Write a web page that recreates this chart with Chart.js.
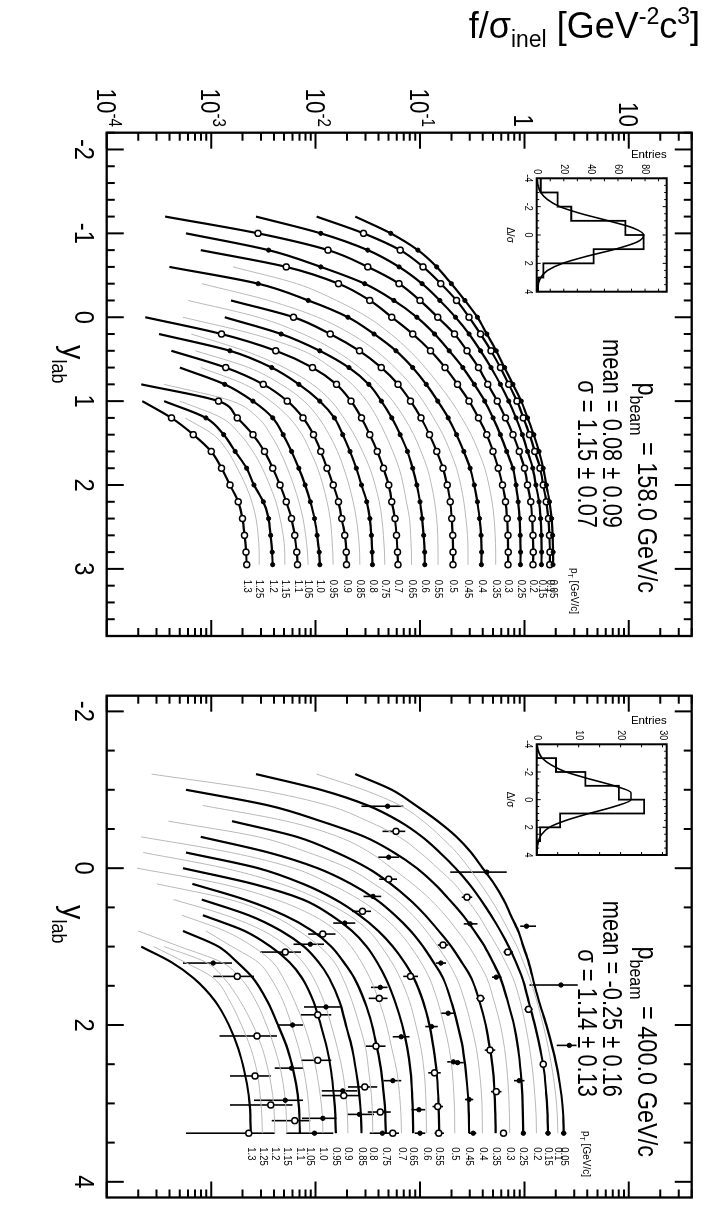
<!DOCTYPE html>
<html>
<head>
<meta charset="utf-8">
<script src="https://cdn.jsdelivr.net/npm/chart.js@4.4.1/dist/chart.umd.min.js"></script>
<style>
  html, body { margin: 0; padding: 0; background: #fff; overflow: hidden; }
  body { width: 714px; height: 1226px; position: relative; }
  /* the plot is drawn lying on its side and turned a quarter turn */
  #rot { position: absolute; left: 0; top: 0; width: 1226px; height: 714px;
         transform-origin: 0 0; transform: translate(714px, 0) rotate(90deg); }
  #rot canvas { position: absolute; left: 0; top: 0; }
</style>
</head>
<body>
<div id="rot">
  <canvas id="c158" width="1226" height="714"></canvas>
  <canvas id="c400" width="1226" height="714"></canvas>
  <canvas id="h158" width="1226" height="714"></canvas>
  <canvas id="h400" width="1226" height="714"></canvas>
</div>
<script>
const FONT = '"Liberation Sans", Arial, Helvetica, sans-serif';
const _ = null;

// pT bins [GeV/c]
const ptBins = ['0.05','0.1','0.15','0.2','0.25','0.3','0.35','0.4','0.45','0.5','0.55','0.6','0.65',
                '0.7','0.75','0.8','0.85','0.9','0.95','1.0','1.05','1.1','1.15','1.2','1.25','1.3'];

// 158 GeV/c : log10(f/sigma) of each pT curve at these y_lab
const yLab158 = [-1.2,-1.0,-0.8,-0.6,-0.4,-0.2,0,0.2,0.4,0.6,0.8,1.0,1.2,1.4,1.6,1.8,2.0,2.2,2.4,2.6,2.8,2.95];
const logF158 = [
  [-1.62,-1.28,-1.02,-0.84,-0.70,-0.57,-0.45,-0.36,-0.27,-0.19,-0.11,-0.03,0.03,0.09,0.14,0.18,0.21,0.24,0.26,0.27,0.275,0.274],
  [-1.99,-1.54,-1.19,-0.97,-0.80,-0.65,-0.53,-0.42,-0.32,-0.23,-0.15,-0.07,-0.01,0.05,0.10,0.15,0.18,0.21,0.23,0.24,0.245,0.242],
  [-2.57,-1.95,-1.50,-1.20,-0.98,-0.81,-0.66,-0.53,-0.42,-0.32,-0.23,-0.15,-0.08,-0.02,0.03,0.08,0.11,0.14,0.155,0.163,0.165,0.163],
  [-3.44,-2.55,-1.88,-1.50,-1.20,-1.00,-0.83,-0.67,-0.55,-0.44,-0.35,-0.26,-0.18,-0.11,-0.05,0.00,0.03,0.06,0.075,0.082,0.085,0.082],
  [_,-3.24,-2.45,-1.95,-1.53,-1.25,-1.03,-0.86,-0.72,-0.59,-0.48,-0.38,-0.30,-0.23,-0.17,-0.11,-0.08,-0.06,-0.045,-0.04,-0.037,-0.038],
  [_,_,-3.10,-2.28,-1.78,-1.48,-1.27,-1.07,-0.90,-0.76,-0.64,-0.53,-0.44,-0.36,-0.30,-0.25,-0.21,-0.18,-0.165,-0.158,-0.155,-0.157],
  [_,_,_,-2.79,-2.18,-1.80,-1.50,-1.28,-1.10,-0.95,-0.82,-0.70,-0.60,-0.51,-0.44,-0.38,-0.34,-0.31,-0.29,-0.28,-0.275,-0.275],
  [_,_,_,-3.40,-2.55,-2.07,-1.69,-1.44,-1.23,-1.07,-0.94,-0.83,-0.73,-0.65,-0.58,-0.52,-0.48,-0.45,-0.43,-0.415,-0.41,-0.412],
  [_,_,_,_,-3.09,-2.45,-1.98,-1.66,-1.42,-1.24,-1.09,-0.97,-0.87,-0.78,-0.71,-0.65,-0.61,-0.58,-0.56,-0.545,-0.54,-0.54],
  [_,_,_,_,_,-2.81,-2.21,-1.86,-1.58,-1.37,-1.21,-1.09,-0.99,-0.91,-0.84,-0.78,-0.74,-0.71,-0.695,-0.687,-0.683,-0.683],
  [_,_,_,_,_,-3.22,-2.55,-2.12,-1.81,-1.58,-1.40,-1.26,-1.15,-1.06,-0.99,-0.93,-0.89,-0.86,-0.84,-0.83,-0.827,-0.827],
  [_,_,_,_,_,_,-2.87,-2.33,-1.96,-1.68,-1.49,-1.37,-1.27,-1.19,-1.12,-1.07,-1.03,-1.00,-0.98,-0.965,-0.955,-0.954],
  [_,_,_,_,_,_,-3.27,-2.60,-2.12,-1.85,-1.65,-1.51,-1.41,-1.33,-1.26,-1.20,-1.16,-1.13,-1.10,-1.09,-1.082,-1.081],
  [_,_,_,_,_,_,-3.63,-2.90,-2.38,-2.03,-1.80,-1.66,-1.56,-1.48,-1.41,-1.35,-1.30,-1.27,-1.24,-1.225,-1.215,-1.21],
  [_,_,_,_,_,_,_,-3.19,-2.68,-2.30,-2.03,-1.85,-1.73,-1.63,-1.55,-1.48,-1.43,-1.39,-1.365,-1.35,-1.34,-1.337],
  [_,_,_,_,_,_,_,-3.50,-2.82,-2.42,-2.16,-1.96,-1.82,-1.74,-1.67,-1.61,-1.56,-1.51,-1.48,-1.465,-1.458,-1.455],
  [_,_,_,_,_,_,_,_,-3.15,-2.64,-2.33,-2.11,-1.97,-1.87,-1.79,-1.73,-1.68,-1.64,-1.61,-1.59,-1.578,-1.576],
  [_,_,_,_,_,_,_,_,-3.38,-2.86,-2.50,-2.27,-2.12,-2.02,-1.95,-1.89,-1.83,-1.78,-1.75,-1.72,-1.705,-1.703],
  [_,_,_,_,_,_,_,_,_,-3.10,-2.68,-2.43,-2.25,-2.13,-2.05,-1.98,-1.93,-1.89,-1.86,-1.845,-1.835,-1.832],
  [_,_,_,_,_,_,_,_,_,-3.30,-2.87,-2.60,-2.41,-2.31,-2.23,-2.16,-2.10,-2.05,-2.01,-1.985,-1.965,-1.959],
  [_,_,_,_,_,_,_,_,_,_,-3.45,-2.80,-2.55,-2.43,-2.34,-2.27,-2.21,-2.16,-2.12,-2.095,-2.078,-2.071],
  [_,_,_,_,_,_,_,_,_,_,-3.67,-2.93,-2.75,-2.60,-2.49,-2.41,-2.34,-2.28,-2.23,-2.20,-2.18,-2.172],
  [_,_,_,_,_,_,_,_,_,_,_,-3.30,-2.90,-2.72,-2.60,-2.51,-2.44,-2.38,-2.34,-2.31,-2.295,-2.294],
  [_,_,_,_,_,_,_,_,_,_,_,-3.45,-3.05,-2.88,-2.77,-2.66,-2.59,-2.50,-2.45,-2.43,-2.415,-2.411],
  [_,_,_,_,_,_,_,_,_,_,_,_,-3.25,-2.98,-2.84,-2.75,-2.67,-2.61,-2.57,-2.55,-2.54,-2.54],
  [_,_,_,_,_,_,_,_,_,_,_,-3.66,-3.38,-3.17,-3.00,-2.90,-2.82,-2.74,-2.70,-2.68,-2.665,-2.66]
];
const bold158 = [1,1,1,1,1,1,0,1,0,1,0,1,0,1,0,1,0,1,0,1,0,1,0,1,0,1];
const open158 = [0,1,0,1,0,1,0,0,0,1,0,0,0,1,0,0,0,1,0,0,0,1,0,0,0,1];

// 400 GeV/c : model curves
const yLab400 = [-1.2,-1.0,-0.8,-0.6,-0.4,-0.2,0,0.2,0.4,0.6,0.8,1.0,1.2,1.4,1.7,2.0,2.3,2.6,2.9,3.15,3.38];
const logF400 = [
  [-1.62,-1.27,-1.04,-0.83,-0.65,-0.51,-0.40,-0.29,-0.20,-0.13,-0.06,-0.01,0.04,0.08,0.14,0.21,0.27,0.32,0.355,0.372,0.376],
  [-1.99,-1.54,-1.19,-0.97,-0.80,-0.65,-0.53,-0.42,-0.32,-0.23,-0.15,-0.07,-0.01,0.05,0.12,0.18,0.23,0.27,0.30,0.315,0.32],
  [-2.57,-1.95,-1.50,-1.20,-0.98,-0.81,-0.66,-0.53,-0.42,-0.32,-0.23,-0.15,-0.08,-0.02,0.04,0.10,0.15,0.19,0.21,0.222,0.226],
  [-3.57,-2.55,-1.88,-1.50,-1.20,-1.00,-0.83,-0.67,-0.55,-0.44,-0.35,-0.26,-0.18,-0.11,-0.04,0.01,0.05,0.08,0.10,0.112,0.115],
  [_,-3.24,-2.45,-1.95,-1.53,-1.25,-1.03,-0.86,-0.72,-0.59,-0.48,-0.38,-0.30,-0.23,-0.16,-0.10,-0.06,-0.035,-0.02,-0.014,-0.013],
  [_,_,-3.08,-2.28,-1.78,-1.48,-1.27,-1.07,-0.90,-0.76,-0.64,-0.53,-0.44,-0.36,-0.29,-0.23,-0.19,-0.165,-0.15,-0.143,-0.141],
  [_,_,_,-2.80,-2.18,-1.80,-1.50,-1.28,-1.10,-0.95,-0.82,-0.70,-0.60,-0.51,-0.43,-0.37,-0.33,-0.30,-0.285,-0.278,-0.275],
  [_,_,_,-3.41,-2.55,-2.07,-1.69,-1.44,-1.23,-1.07,-0.94,-0.83,-0.73,-0.65,-0.57,-0.51,-0.46,-0.43,-0.41,-0.404,-0.402],
  [_,_,_,_,-3.10,-2.45,-1.98,-1.66,-1.42,-1.24,-1.09,-0.97,-0.87,-0.78,-0.70,-0.64,-0.59,-0.56,-0.54,-0.532,-0.53],
  [_,_,_,_,-3.67,-2.81,-2.21,-1.86,-1.58,-1.37,-1.21,-1.09,-0.99,-0.91,-0.83,-0.77,-0.72,-0.69,-0.675,-0.668,-0.667],
  [_,_,_,_,_,-3.24,-2.55,-2.12,-1.81,-1.58,-1.40,-1.26,-1.15,-1.06,-0.97,-0.91,-0.87,-0.84,-0.825,-0.819,-0.817],
  [_,_,_,_,_,-3.65,-2.87,-2.33,-1.96,-1.68,-1.49,-1.37,-1.27,-1.19,-1.10,-1.04,-0.99,-0.96,-0.945,-0.94,-0.938],
  [_,_,_,_,_,_,-3.27,-2.60,-2.12,-1.85,-1.65,-1.51,-1.41,-1.33,-1.24,-1.17,-1.12,-1.09,-1.075,-1.068,-1.066],
  [_,_,_,_,_,_,-3.71,-2.90,-2.38,-2.03,-1.80,-1.66,-1.56,-1.48,-1.39,-1.32,-1.27,-1.22,-1.195,-1.182,-1.177],
  [_,_,_,_,_,_,_,-3.18,-2.68,-2.30,-2.03,-1.85,-1.73,-1.63,-1.53,-1.46,-1.41,-1.37,-1.345,-1.332,-1.327],
  [_,_,_,_,_,_,_,-3.52,-2.82,-2.42,-2.16,-1.96,-1.82,-1.74,-1.65,-1.58,-1.52,-1.49,-1.465,-1.455,-1.452],
  [_,_,_,_,_,_,_,_,-3.09,-2.64,-2.33,-2.11,-1.97,-1.87,-1.77,-1.71,-1.65,-1.61,-1.58,-1.565,-1.56],
  [_,_,_,_,_,_,_,_,-3.36,-2.86,-2.50,-2.27,-2.12,-2.02,-1.92,-1.85,-1.79,-1.74,-1.71,-1.695,-1.69],
  [_,_,_,_,_,_,_,_,_,-3.08,-2.68,-2.43,-2.25,-2.13,-2.02,-1.95,-1.89,-1.85,-1.825,-1.81,-1.806],
  [_,_,_,_,_,_,_,_,_,-3.28,-2.87,-2.60,-2.41,-2.31,-2.20,-2.11,-2.04,-1.99,-1.955,-1.935,-1.93],
  [_,_,_,_,_,_,_,_,_,_,-3.05,-2.80,-2.55,-2.43,-2.31,-2.23,-2.16,-2.11,-2.075,-2.06,-2.055],
  [_,_,_,_,_,_,_,_,_,_,-3.27,-2.93,-2.75,-2.60,-2.46,-2.36,-2.27,-2.21,-2.17,-2.155,-2.15],
  [_,_,_,_,_,_,_,_,_,_,-3.70,-3.30,-2.90,-2.72,-2.57,-2.47,-2.39,-2.33,-2.295,-2.28,-2.275],
  [_,_,_,_,_,_,_,_,_,_,_,-3.45,-3.05,-2.88,-2.72,-2.60,-2.51,-2.45,-2.41,-2.395,-2.39],
  [_,_,_,_,_,_,_,_,_,_,_,-3.55,-3.25,-2.98,-2.82,-2.71,-2.62,-2.56,-2.53,-2.515,-2.51],
  [_,_,_,_,_,_,_,_,_,_,_,-3.67,-3.38,-3.17,-2.96,-2.83,-2.74,-2.68,-2.64,-2.625,-2.62]
];
const bold400 = [1,0,1,0,1,0,1,0,1,0,1,0,1,0,1,0,1,0,1,0,0,1,0,0,0,1];

// 400 GeV/c : measured points, log10 value and error range
const pt400Y = [-0.79,-0.47,-0.14,0.14,0.36,0.55,0.70,0.84,0.97,1.07,1.21,1.38,1.52,1.66,1.77,1.87,2.00,2.14,2.27,2.45,
  2.55,2.65,2.71,2.79,2.84,2.90,2.96,3.02,3.11,3.14,3.19,3.22,3.38,3.38,3.38,3.38,3.08,2.61,3.04,2.47,
  3.38,3.38,0.74,0.71,0.98,1.07,1.21,1.38,1.39,1.49,1.66,1.80,1.85,2.02,2.15,2.32,2.48,2.26,2.50,2.71,
  2.85,2.95,3.38,3.38,3.38,3.38,3.38,0.05,0.37];
const pt400LogF = [-1.31,-1.23,-1.30,-1.30,-1.45,-1.55,-1.72,-1.93,-2.05,-2.29,-2.98,-2.75,-1.38,-1.39,-1.90,-1.98,-2.22,-2.56,-1.42,-1.98,
  -2.23,-2.58,-1.26,-1.53,-1.74,-1.73,-2.29,-2.43,-1.38,-1.58,-1.93,-2.20,-2.64,-2.01,-1.36,-1.26,-1.01,-0.86,-0.83,-0.68,
  -1.00,-0.82,0.02,-0.52,-0.78,-0.16,-0.80,-1.09,-0.27,0.35,-0.42,0.04,-0.73,-0.89,-1.18,-0.33,-0.64,0.43,0.18,-0.05,
  -0.27,-0.53,0.376,0.226,-0.01,-0.20,-0.49,-0.36,-0.55];
const pt400Lo = [-1.56,-1.36,-1.40,-1.39,-1.54,-1.65,-1.83,-2.07,-2.21,-2.53,-3.27,-2.98,-1.47,-1.49,-2.11,-2.14,-2.36,-2.92,-1.52,-2.14,
  -2.39,-2.82,-1.35,-1.69,-1.94,-1.94,-2.59,-2.82,-1.50,-1.70,-2.13,-2.42,-3.24,-2.28,-1.48,-1.33,-1.08,-0.92,-0.88,-0.74,
  -1.05,-0.86,-0.04,-0.58,-0.83,-0.20,-0.85,-1.16,-0.31,0.05,-0.46,0.00,-0.80,-0.95,-1.26,-0.38,-0.70,0.31,0.16,-0.10,
  -0.32,-0.57,0.35,0.20,-0.03,-0.23,-0.53,-0.71,-0.60];
const pt400Hi = [-1.16,-1.14,-1.20,-1.22,-1.37,-1.47,-1.62,-1.81,-1.92,-2.14,-2.80,-2.59,-1.31,-1.31,-1.76,-1.85,-2.12,-2.37,-1.33,-1.85,
  -2.12,-2.43,-1.18,-1.41,-1.60,-1.58,-2.12,-2.22,-1.28,-1.44,-1.80,-2.05,-2.39,-1.83,-1.28,-1.20,-0.95,-0.80,-0.78,-0.62,
  -0.95,-0.77,0.11,-0.45,-0.73,-0.11,-0.75,-1.02,-0.22,0.51,-0.38,0.08,-0.66,-0.83,-1.10,-0.28,-0.58,0.50,0.20,0.00,
  -0.22,-0.49,0.40,0.25,0.01,-0.17,-0.46,-0.17,-0.50];
const pt400Open = [0,1,0,1,0,1,0,1,0,1,0,1,0,1,0,1,0,1,1,1,
  0,1,0,1,0,1,0,1,1,0,0,1,1,0,0,1,0,1,1,0,
  0,1,0,0,1,1,0,1,0,0,1,1,0,0,0,1,0,0,1,0,
  1,0,0,0,0,1,0,0,1];

// residual histograms (inserts)
const histEdges = [-4,-3,-2,-1,0,1,2,3,4];
const hist158 = [3,15.5,25.5,65.5,79,42,5,1];
const hist400 = [0,4.6,11.6,19.6,25.6,5.6,0.8,0];
const fitX = [-4,-3.5,-3,-2.5,-2,-1.5,-1,-0.5,0,0.5,1,1.5,2,2.5,3,3.5,4];
const fit158 = [0.3,1,3,8,17,33,53,71,79,74,58,37,19,8,3,1,0.3];
const fit400 = [0.1,0.4,1.3,3.5,7,12.5,18.5,22.5,22.5,18.5,12.5,7,3,1.2,0.4,0.1,0];

// tick labels
const yLabTicks158 = [-2,-1,0,1,2,3];
const yLabTicks400 = [-2,0,2,4];
const fTicks = [1e-4,1e-3,1e-2,1e-1,1,10];
const fTickText = [['10','-4'],['10','-3'],['10','-2'],['10','-1'],['1',''],['10','']];
const entTicks158 = [0,20,40,60,80];
const entTicks400 = [0,10,20,30];
const dsTicks = [-4,-2,0,2,4];

// ---------- helpers ----------
// parts: [text, size, dy]; sx squeezes the text along its run (the original uses a narrow face)
function rich(ctx, x, y, parts, align, sx) {
  sx = sx || 1;
  let w = 0;
  for (const p of parts) { ctx.font = p[1] + 'px ' + FONT; w += ctx.measureText(p[0]).width; }
  w *= sx;
  let cx = align === 'right' ? x - w : (align === 'center' ? x - w / 2 : x);
  ctx.save();
  ctx.translate(cx, y);
  ctx.scale(sx, 1);
  let lx = 0;
  for (const p of parts) {
    ctx.font = p[1] + 'px ' + FONT;
    ctx.fillText(p[0], lx, p[2] || 0);
    lx += ctx.measureText(p[0]).width;
  }
  ctx.restore();
}
function linTicks(min, max, major, minor, lMaj, lMin) {
  const t = [];
  for (let n = Math.ceil(min / minor - 1e-6); n <= Math.floor(max / minor + 1e-6); n++) {
    const v = n * minor;
    const isMaj = Math.abs(v / major - Math.round(v / major)) < 1e-6;
    t.push([v, isMaj ? lMaj : lMin]);
  }
  return t;
}
function logTicks(min, max, lMaj, lMin) {
  const t = [];
  for (let d = -4; d <= 1; d++) for (let m = 1; m <= 9; m++) {
    const v = m * Math.pow(10, d);
    if (v >= min * 0.999 && v <= max * 1.001) t.push([v, m === 1 ? lMaj : lMin]);
  }
  return t;
}
function frameTicks(xT, yT, frameW, tickW) {
  return {
    id: 'frameTicks',
    afterDatasetsDraw(chart) {
      const { ctx, chartArea: a, scales: { x, y } } = chart;
      ctx.save();
      ctx.strokeStyle = '#000';
      ctx.lineWidth = tickW;
      ctx.beginPath();
      xT.forEach(([v, len]) => {
        const p = x.getPixelForValue(v);
        ctx.moveTo(p, a.bottom); ctx.lineTo(p, a.bottom - len);
        ctx.moveTo(p, a.top); ctx.lineTo(p, a.top + len);
      });
      yT.forEach(([v, len]) => {
        const p = y.getPixelForValue(v);
        ctx.moveTo(a.left, p); ctx.lineTo(a.left + len, p);
        ctx.moveTo(a.right, p); ctx.lineTo(a.right - len, p);
      });
      ctx.stroke();
      ctx.lineWidth = frameW;
      ctx.strokeRect(a.left, a.top, a.right - a.left, a.bottom - a.top);
      ctx.restore();
    }
  };
}
function curveSets(knots, rows, bold, open, markers) {
  return rows.map((row, i) => {
    const pts = [];
    row.forEach((v, k) => { if (v !== null) pts.push({ x: knots[k], y: Math.pow(10, v) }); });
    const b = bold[i] === 1;
    const o = open && open[i] === 1;
    const r = markers && b ? (o ? 3 : 2.1) : 0;
    return {
      data: pts,
      borderColor: b ? '#000' : '#b9b9b9',
      borderWidth: b ? 2.2 : 1,
      cubicInterpolationMode: 'monotone',
      pointRadius: c => (c.dataIndex === 0 ? 0 : r),
      pointBorderWidth: o ? 1.5 : 1,
      pointBackgroundColor: o ? '#fff' : '#000',
      pointBorderColor: '#000',
      order: b ? 1 : 2
    };
  });
}
function baseOptions(xmin, xmax, ymin, ymax, ylog, pad) {
  return {
    responsive: false, animation: false, events: [],
    layout: { padding: pad },
    plugins: { legend: { display: false }, tooltip: { enabled: false } },
    scales: {
      x: { type: 'linear', min: xmin, max: xmax, display: false },
      y: { type: ylog ? 'logarithmic' : 'linear', min: ymin, max: ymax, display: false }
    }
  };
}
function ptLabels(chart, knots, rows, dx, textX0, titleY) {
  const { ctx, scales: { x, y } } = chart;
  ctx.textBaseline = 'middle';
  rows.forEach((row, i) => {
    const last = row[row.length - 1];
    const px = x.getPixelForValue(knots[knots.length - 1]) + dx;
    rich(ctx, px, y.getPixelForValue(Math.pow(10, last)), [[ptBins[i], 10]], 'left', 0.95);
  });
  ctx.textBaseline = 'alphabetic';
  rich(ctx, textX0, titleY, [['p', 10], ['T', 7, 3], [' [GeV/c]', 10]], 'left');
}
function yLabAxis(chart, ticks, titleX) {
  const { ctx, scales: { x } } = chart;
  ticks.forEach(v => rich(ctx, x.getPixelForValue(v), 639, [[String(v), 28]], 'center', 0.85));
  rich(ctx, titleX, 651, [['y', 32], ['lab', 20, 11]], 'left', 0.9);
}

// ---------- 158 GeV/c panel ----------
const texts158 = {
  id: 'texts158',
  afterDraw(chart) {
    const { ctx, scales: { y } } = chart;
    ctx.save();
    ctx.fillStyle = '#000';
    fTicks.forEach((v, i) => {
      const p = y.getPixelForValue(v);
      rich(ctx, 127, p + 10, [[fTickText[i][0], 28], [fTickText[i][1], 19, -12]], 'right', 0.8);
    });
    ctx.save();
    ctx.translate(38, 14);
    ctx.rotate(-Math.PI / 2);
    rich(ctx, 0, 0, [['f/σ', 36], ['inel', 23, 9], [' [GeV', 36], ['-2', 23, -14], ['c', 36], ['3', 23, -14], [']', 36]], 'right');
    ctx.restore();
    yLabAxis(chart, yLabTicks158, 345);
    rich(ctx, 593, 76, [['p', 28], ['beam', 19, 8], [' = 158.0 GeV/c', 28]], 'right', 0.84);
    rich(ctx, 528, 111, [['mean = 0.08 ± 0.09', 27]], 'right', 0.81);
    rich(ctx, 528, 136, [['σ = 1.15 ± 0.07', 27]], 'right', 0.81);
    ptLabels(chart, yLab158, logF158, 15, 568, 143);
    ctx.restore();
  }
};
new Chart(document.getElementById('c158'), {
  type: 'line',
  data: { datasets: curveSets(yLab158, logF158, bold158, open158, true) },
  options: baseOptions(-2.2, 3.8, 1e-4, 40, true, { left: 132.7, right: 590, top: 22.3, bottom: 106.7 }),
  plugins: [frameTicks(linTicks(-2.2, 3.8, 1, 0.2, 17, 8), logTicks(1e-4, 40, 16, 8), 2.3, 2), texts158]
});

// ---------- 400 GeV/c panel ----------
const errBars400 = {
  id: 'errBars400',
  beforeDatasetsDraw(chart) {
    const { ctx, scales: { x, y } } = chart;
    ctx.save();
    ctx.strokeStyle = '#000';
    ctx.lineWidth = 1.6;
    ctx.beginPath();
    pt400Y.forEach((v, i) => {
      const px = x.getPixelForValue(v);
      ctx.moveTo(px, y.getPixelForValue(Math.pow(10, pt400Lo[i])));
      ctx.lineTo(px, y.getPixelForValue(Math.pow(10, pt400Hi[i])));
    });
    ctx.stroke();
    ctx.restore();
  }
};
const texts400 = {
  id: 'texts400',
  afterDraw(chart) {
    const { ctx } = chart;
    ctx.save();
    ctx.fillStyle = '#000';
    yLabAxis(chart, yLabTicks400, 905);
    rich(ctx, 1157, 76, [['p', 28], ['beam', 19, 8], [' = 400.0 GeV/c', 28]], 'right', 0.84);
    rich(ctx, 1097, 111, [['mean = -0.25 ± 0.16', 27]], 'right', 0.81);
    rich(ctx, 1097, 136, [['σ = 1.14 ± 0.13', 27]], 'right', 0.81);
    ptLabels(chart, yLab400, logF400, 14, 1131, 131);
    ctx.restore();
  }
};
const ptsFilled = [], ptsOpen = [];
pt400Y.forEach((v, i) => (pt400Open[i] ? ptsOpen : ptsFilled).push({ x: v, y: Math.pow(10, pt400LogF[i]) }));
new Chart(document.getElementById('c400'), {
  type: 'line',
  data: {
    datasets: [
      { data: ptsFilled, showLine: false, pointRadius: 2.2, pointBackgroundColor: '#000', pointBorderColor: '#000', order: 0 },
      { data: ptsOpen, showLine: false, pointRadius: 3, pointBorderWidth: 1.5, pointBackgroundColor: '#fff', pointBorderColor: '#000', order: 0 }
    ].concat(curveSets(yLab400, logF400, bold400, null, false))
  },
  options: baseOptions(-2.2, 4.2, 1e-4, 40, true, { left: 695.7, right: 28.5, top: 22.3, bottom: 106.7 }),
  plugins: [errBars400, frameTicks(linTicks(-2.2, 4.2, 2, 0.5, 17, 8), logTicks(1e-4, 40, 16, 8), 2.3, 2), texts400]
});

// ---------- inserts ----------
function histChart(id, hist, fit, ymax, entTicks, pad, entMinor) {
  const stepPts = histEdges.slice(0, hist.length).map((e, i) => ({ x: e, y: hist[i] }));
  stepPts.push({ x: histEdges[histEdges.length - 1], y: hist[hist.length - 1] });
  const labels = {
    id: 'histLabels',
    afterDraw(chart) {
      const { ctx, chartArea: a, scales: { x, y } } = chart;
      ctx.save();
      ctx.fillStyle = '#000';
      ctx.textBaseline = 'middle';
      entTicks.forEach(v => rich(ctx, a.left - 4, y.getPixelForValue(v), [[String(v), 10]], 'right', 0.9));
      ctx.textBaseline = 'top';
      dsTicks.forEach(v => rich(ctx, x.getPixelForValue(v), a.bottom + 4, [[String(v), 10]], 'center', 0.9));
      ctx.textBaseline = 'alphabetic';
      rich(ctx, (a.left + a.right) / 2, a.bottom + 30, [['Δ/σ', 10]], 'center');
      ctx.save();
      ctx.translate(a.left - 20, a.top);
      ctx.rotate(-Math.PI / 2);
      rich(ctx, 0, 0, [['Entries', 11.5]], 'right');
      ctx.restore();
      ctx.restore();
    }
  };
  new Chart(document.getElementById(id), {
    type: 'line',
    data: {
      datasets: [
        { data: stepPts, stepped: true, borderColor: '#000', borderWidth: 1.8, pointRadius: 0 },
        { data: fitX.map((v, i) => ({ x: v, y: fit[i] })), cubicInterpolationMode: 'monotone', borderColor: '#000', borderWidth: 1.6, pointRadius: 0 }
      ]
    },
    options: baseOptions(-4, 4, 0, ymax, false, pad),
    plugins: [frameTicks(linTicks(-4, 4, 2, 0.5, 4, 2.5), linTicks(0, ymax, 100, entMinor, 3, 3), 2, 1), labels]
  });
}
histChart('h158', hist158, fit158, 96, entTicks158,
  { left: 178.3, right: 934.3, top: 47.3, bottom: 536.7 }, 10);
histChart('h400', hist400, fit400, 31, entTicks400,
  { left: 744.3, right: 371, top: 47.3, bottom: 536.7 }, 5);
</script>
</body>
</html>
